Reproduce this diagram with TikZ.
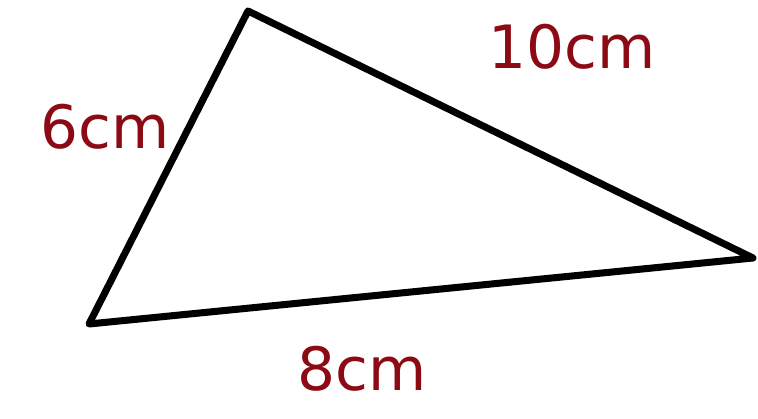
\documentclass[tikz,border=0pt]{standalone}
\usepackage{fontspec}
\setmainfont{DejaVu Sans}
\usepackage{xcolor}
\usetikzlibrary{positioning, calc}
\definecolor{inkred}{RGB}{140,10,20}

\begin{document}
\begin{tikzpicture}[x=0.02cm, y=0.02cm, line join=round, line cap=round]

        % 1. Canvas
        \useasboundingbox (0, 0) rectangle (758, 419);

        % 2. Vertices
        \coordinate (top) at (248, 408);
        \coordinate (left) at (89, 95);
        \coordinate (right) at (753, 161);

        % 3. Triangle
        \draw[line width=4pt] (top) -- (right) -- (left) -- cycle;

        % 4. Side lengths
        \tikzset{sidelabel/.style={text=inkred, font=\fontsize{34}{34}\selectfont, inner sep=0pt}}
        \node[sidelabel] (short) at (105, 292) {6cm};
        \node[sidelabel] (long) at (572, 372) {10cm};
        \node[sidelabel] (base) at (362, 50) {8cm};

    \end{tikzpicture}
\end{document}
